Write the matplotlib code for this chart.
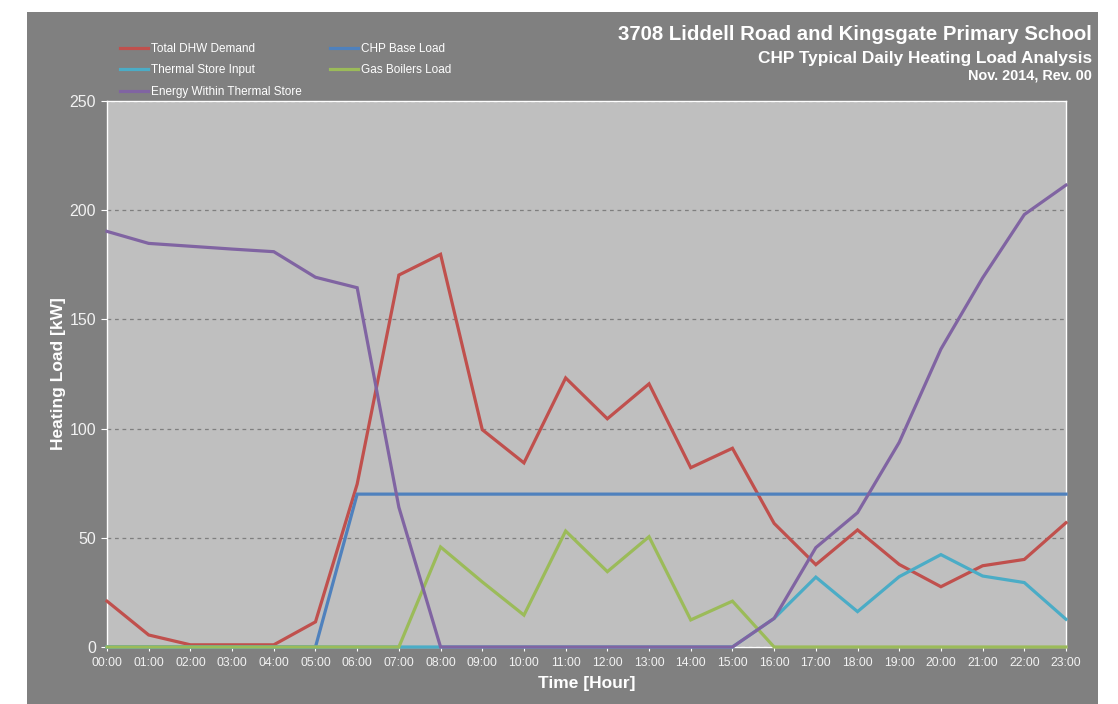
import matplotlib
matplotlib.use("Agg")
import matplotlib.pyplot as plt
from matplotlib.patches import Rectangle

plt.rcParams['font.family'] = ['Liberation Sans', 'DejaVu Sans']

hours = [f"{h:02d}:00" for h in range(24)]
total_dhw = [21, 5.5, 1, 1, 1, 11.5, 74.6, 170.3, 179.8, 99.5, 84.3, 123.2, 104.5, 120.5,
             82.1, 91, 56.6, 37.7, 53.6, 37.8, 27.6, 37.2, 40.1, 56.9]
chp_base = [0, 0, 0, 0, 0, 0, 70, 70, 70, 70, 70, 70, 70, 70, 70, 70, 70, 70, 70, 70, 70, 70, 70, 70]
store_input = [0, 0, 0, 0, 0, 0, 0, 0, 0, 0, 0, 0, 0, 0, 0, 0, 13.1, 32, 16.2, 32.2, 42.3, 32.5, 29.5, 12.7]
gas_boilers = [0, 0, 0, 0, 0, 0, 0, 0, 45.8, 29.8, 14.6, 53.1, 34.5, 50.5, 12.4, 21, 0, 0, 0, 0, 0, 0, 0, 0]
store_energy = [190.3, 184.8, 183.5, 182.2, 181, 169.3, 164.5, 64, 0, 0, 0, 0, 0, 0, 0, 0,
                13.1, 45.5, 61.5, 93.7, 136.4, 169, 198, 211.5]

series = [
    ("Total DHW Demand", total_dhw, "#C0504D"),
    ("CHP Base Load", chp_base, "#4F81BD"),
    ("Thermal Store Input", store_input, "#4BACC6"),
    ("Gas Boilers Load", gas_boilers, "#9BBB59"),
    ("Energy Within Thermal Store", store_energy, "#8064A2"),
]

W, H = 1118, 704
fig = plt.figure(figsize=(W / 100, H / 100), dpi=100)
fig.patch.set_facecolor("white")
bg = fig.add_axes([0, 0, 1, 1], zorder=-10)
bg.set_xlim(0, W)
bg.set_ylim(H, 0)
bg.axis("off")
bg.add_patch(Rectangle((27, 12), 1098 - 27, H - 12, facecolor="#808080", edgecolor="none"))

left, right, top, bottom = 107, 1066, 101, 647
ax = fig.add_axes([left / W, 1 - bottom / H, (right - left) / W, (bottom - top) / H])
ax.set_facecolor("#BFBFBF")

x = list(range(len(hours)))
lines = {}
for name, vals, col in series:
    ln, = ax.plot(x, vals, color=col, lw=2.3, label=name, solid_joinstyle="miter",
                  clip_on=False, zorder=3)
    lines[name] = ln

ax.set_xlim(0, 23)
ax.set_ylim(0, 250)
ax.set_yticks([0, 50, 100, 150, 200, 250])
ax.set_xticks(x)
ax.set_xticklabels(hours)
ax.yaxis.grid(True, linestyle=(0, (3, 3)), color="#7F7F7F", lw=0.9)
ax.set_axisbelow(True)
for s in ax.spines.values():
    s.set_color("white")
    s.set_linewidth(1.0)
    s.set_zorder(1)
ax.tick_params(axis="y", colors="white", labelsize=11.5, length=4, direction="out", pad=4)
ax.tick_params(axis="x", colors="white", labelsize=8.8, length=3, direction="out", pad=4)
for lab in ax.get_xticklabels() + ax.get_yticklabels():
    lab.set_color("#F2F2F2")

ax.set_ylabel("Heating Load [kW]", color="white", fontsize=12.5, fontweight="bold", labelpad=2)
ax.set_xlabel("Time [Hour]", color="white", fontsize=12.5, fontweight="bold", labelpad=5)

fig.text(1092 / W, 1 - 35 / H, "3708 Liddell Road and Kingsgate Primary School", ha="right",
         va="center", color="white", fontsize=14.7, fontweight="bold")
fig.text(1092 / W, 1 - 58 / H, "CHP Typical Daily Heating Load Analysis", ha="right",
         va="center", color="white", fontsize=12.4, fontweight="bold")
fig.text(1092 / W, 1 - 75 / H, "Nov. 2014, Rev. 00", ha="right",
         va="center", color="white", fontsize=10.4, fontweight="bold")

order = ["Total DHW Demand", "Thermal Store Input", "Energy Within Thermal Store",
         "CHP Base Load", "Gas Boilers Load"]
leg = fig.legend([lines[n] for n in order], order, ncol=2, loc="upper left",
                 bbox_to_anchor=(120 / W, 1 - 43 / H), frameon=False, fontsize=8.5,
                 labelcolor="white", handlelength=2.4, handletextpad=0.25,
                 columnspacing=2.35, labelspacing=0.8, borderaxespad=0, borderpad=0)

fig.savefig("out.png", dpi=100, facecolor=fig.get_facecolor())
